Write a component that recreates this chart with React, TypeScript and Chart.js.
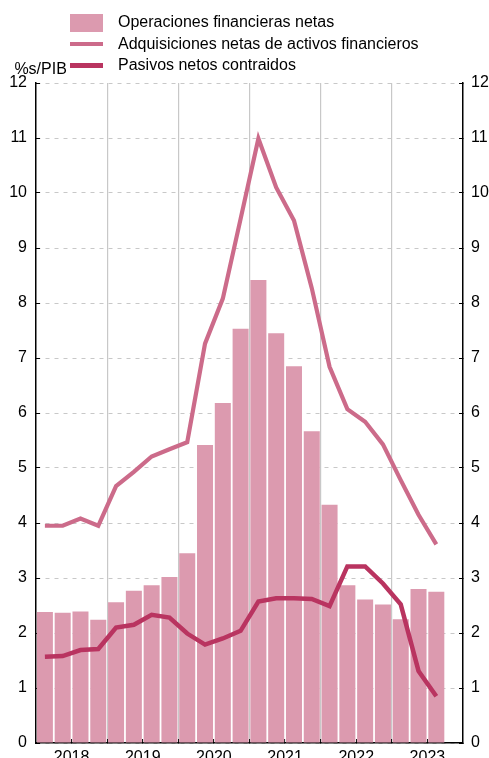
import React, { useEffect, useRef } from 'react';
import { Chart, registerables } from 'chart.js';

Chart.register(...registerables);

// ---------- data ----------
const quarters = [
  '2018-I', '2018-II', '2018-III', '2018-IV',
  '2019-I', '2019-II', '2019-III', '2019-IV',
  '2020-I', '2020-II', '2020-III', '2020-IV',
  '2021-I', '2021-II', '2021-III', '2021-IV',
  '2022-I', '2022-II', '2022-III', '2022-IV',
  '2023-I', '2023-II', '2023-III', '2023-IV',
];
const yearLabels = ['2018', '2019', '2020', '2021', '2022', '2023'];
const operacionesNetas = [
  2.38, 2.37, 2.39, 2.24,
  2.56, 2.77, 2.87, 3.02,
  3.45, 5.42, 6.18, 7.53,
  8.42, 7.45, 6.85, 5.67,
  4.33, 2.87, 2.61, 2.52,
  2.25, 2.80, 2.75, null,
];
const adquisicionesNetas = [
  3.95, 3.95, 4.08, 3.95,
  4.67, 4.93, 5.21, 5.34,
  5.47, 7.26, 8.08, 9.53,
  10.99, 10.10, 9.50, 8.27,
  6.84, 6.07, 5.84, 5.43,
  4.78, 4.15, 3.61, null,
];
const pasivosNetos = [
  1.57, 1.58, 1.69, 1.71,
  2.10, 2.15, 2.33, 2.28,
  1.99, 1.79, 1.90, 2.04,
  2.57, 2.63, 2.63, 2.62,
  2.49, 3.21, 3.21, 2.90,
  2.52, 1.31, 0.85, null,
];
const seriesNames = [
  'Operaciones financieras netas',
  'Adquisiciones netas de activos financieros',
  'Pasivos netos contraidos',
];
const unitLabel = '%s/PIB';

// ---------- styles ----------
const FONT = '"Liberation Sans", Arial, Helvetica, sans-serif';
const BAR_COLOR = '#dc9aaf';
const ADQ_COLOR = '#cc6b8a';
const PAS_COLOR = '#b93460';
const GRID = '#c8c8c8';

function swatch(w: number, h: number, color: string) {
  const c = document.createElement('canvas');
  c.width = w;
  c.height = h;
  const g = c.getContext('2d');
  if (g) {
    g.fillStyle = color;
    g.fillRect(0, 0, w, h);
  }
  return c;
}

export default function App() {
  const ref = useRef<HTMLCanvasElement>(null);

  useEffect(() => {
    const canvas = ref.current;
    if (!canvas) return;
    const n = quarters.length;
    const yearTicks: number[] = [];
    for (let i = 0; i < yearLabels.length; i++) {
      yearTicks.push(i * 4 + 1.5);
      if (i < yearLabels.length - 1) yearTicks.push(i * 4 + 3.5);
    }
    const font = { family: FONT, size: 16 };
    const swatches = [swatch(33, 18, BAR_COLOR), swatch(33, 4, ADQ_COLOR), swatch(33, 5, PAS_COLOR)];
    const colors = [BAR_COLOR, ADQ_COLOR, PAS_COLOR];

    const shiftLegend = {
      id: 'shiftLegend',
      afterLayout(chart: any) {
        if (chart.legend) chart.legend.left = 57.6;
      },
    };

    const chart = new Chart(canvas, {
      type: 'bar',
      data: {
        labels: quarters,
        datasets: [
          {
            type: 'bar',
            label: seriesNames[0],
            data: operacionesNetas,
            backgroundColor: BAR_COLOR,
            borderWidth: 0,
            barPercentage: 0.9,
            categoryPercentage: 1,
            order: 3,
            xAxisID: 'x',
            yAxisID: 'y',
          },
          {
            type: 'line',
            label: seriesNames[1],
            data: adquisicionesNetas,
            borderColor: ADQ_COLOR,
            backgroundColor: ADQ_COLOR,
            borderWidth: 4.2,
            pointRadius: 0,
            tension: 0,
            fill: false,
            order: 2,
            xAxisID: 'x',
            yAxisID: 'y',
          },
          {
            type: 'line',
            label: seriesNames[2],
            data: pasivosNetos,
            borderColor: PAS_COLOR,
            backgroundColor: PAS_COLOR,
            borderWidth: 4.5,
            pointRadius: 0,
            tension: 0,
            fill: false,
            order: 1,
            xAxisID: 'x',
            yAxisID: 'y',
          },
        ] as any,
      },
      options: {
        responsive: false,
        animation: false,
        layout: { padding: { top: 9.6, left: 0, right: 0, bottom: 0 } },
        plugins: {
          tooltip: { enabled: false },
          legend: {
            position: 'top',
            align: 'start',
            maxHeight: 73.4,
            labels: {
              usePointStyle: true,
              pointStyleWidth: 47,
              boxWidth: 47,
              boxHeight: 16,
              padding: 5.4,
              color: '#000',
              font,
              generateLabels: () =>
                seriesNames.map((t, i) => ({
                  text: t,
                  fillStyle: colors[i],
                  strokeStyle: colors[i],
                  lineWidth: 0,
                  pointStyle: swatches[i],
                  hidden: false,
                  datasetIndex: i,
                  fontColor: '#000',
                })) as any,
            },
          },
        },
        scales: {
          x: {
            type: 'category',
            display: false,
            offset: true,
            grid: { offset: true },
          },
          x2: {
            type: 'linear',
            position: 'bottom',
            min: -0.5,
            max: n - 0.5,
            offset: false,
            bounds: 'data',
            afterBuildTicks: (s: any) => {
              s.ticks = yearTicks.map((v) => ({ value: v }));
            },
            afterFit: (s: any) => {
              s.height = 15;
              s.paddingLeft = 0;
              s.paddingRight = 0;
            },
            ticks: {
              autoSkip: false,
              maxRotation: 0,
              minRotation: 0,
              padding: 9,
              color: '#000',
              font,
              callback: (v: any) => {
                const k = (Number(v) - 1.5) / 4;
                return Number.isInteger(k) ? yearLabels[k] : '';
              },
            },
            grid: {
              offset: false,
              color: (c: any) => (((c.tick?.value ?? 0) + 0.5) % 4 === 0 ? GRID : 'rgba(0,0,0,0)'),
              lineWidth: 1.2,
              tickColor: '#000',
              tickLength: -4,
              tickWidth: 1,
              tickBorderDash: [],
            },
            border: { display: true, color: '#000', width: 1.5 },
          } as any,
          y: {
            position: 'left',
            min: 0,
            max: 12,
            afterFit: (s: any) => {
              s.width = 36;
              s.paddingTop = 0;
              s.paddingBottom = 0;
            },
            ticks: { stepSize: 1, padding: 13, color: '#000', font },
            grid: {
              color: GRID,
              lineWidth: 1,
              tickLength: -4,
              tickColor: '#000',
              tickWidth: 1,
              tickBorderDash: [],
            },
            border: { display: true, color: '#000', width: 1.5, dash: [4, 5] },
          } as any,
          y2: {
            position: 'right',
            min: 0,
            max: 12,
            afterFit: (s: any) => {
              s.width = 26;
              s.paddingTop = 0;
              s.paddingBottom = 0;
            },
            ticks: { stepSize: 1, padding: 12, color: '#000', font },
            grid: {
              drawOnChartArea: false,
              tickLength: -4,
              tickColor: '#000',
              tickWidth: 1,
            },
            border: { display: true, color: '#000', width: 1.5 },
          } as any,
        },
      },
      plugins: [shiftLegend],
    });
    return () => chart.destroy();
  }, []);

  return (
    <div style={{ position: 'absolute', left: 0, top: 0, width: 489, height: 758, background: '#fff' }}>
      <canvas ref={ref} width={489} height={758} style={{ display: 'block', width: 489, height: 758 }} />
      <div
        style={{
          position: 'absolute',
          left: 14.4,
          top: 61.3,
          fontFamily: FONT,
          fontSize: 16,
          lineHeight: '16px',
          color: '#000',
          whiteSpace: 'nowrap',
        }}
      >
        {unitLabel}
      </div>
    </div>
  );
}
